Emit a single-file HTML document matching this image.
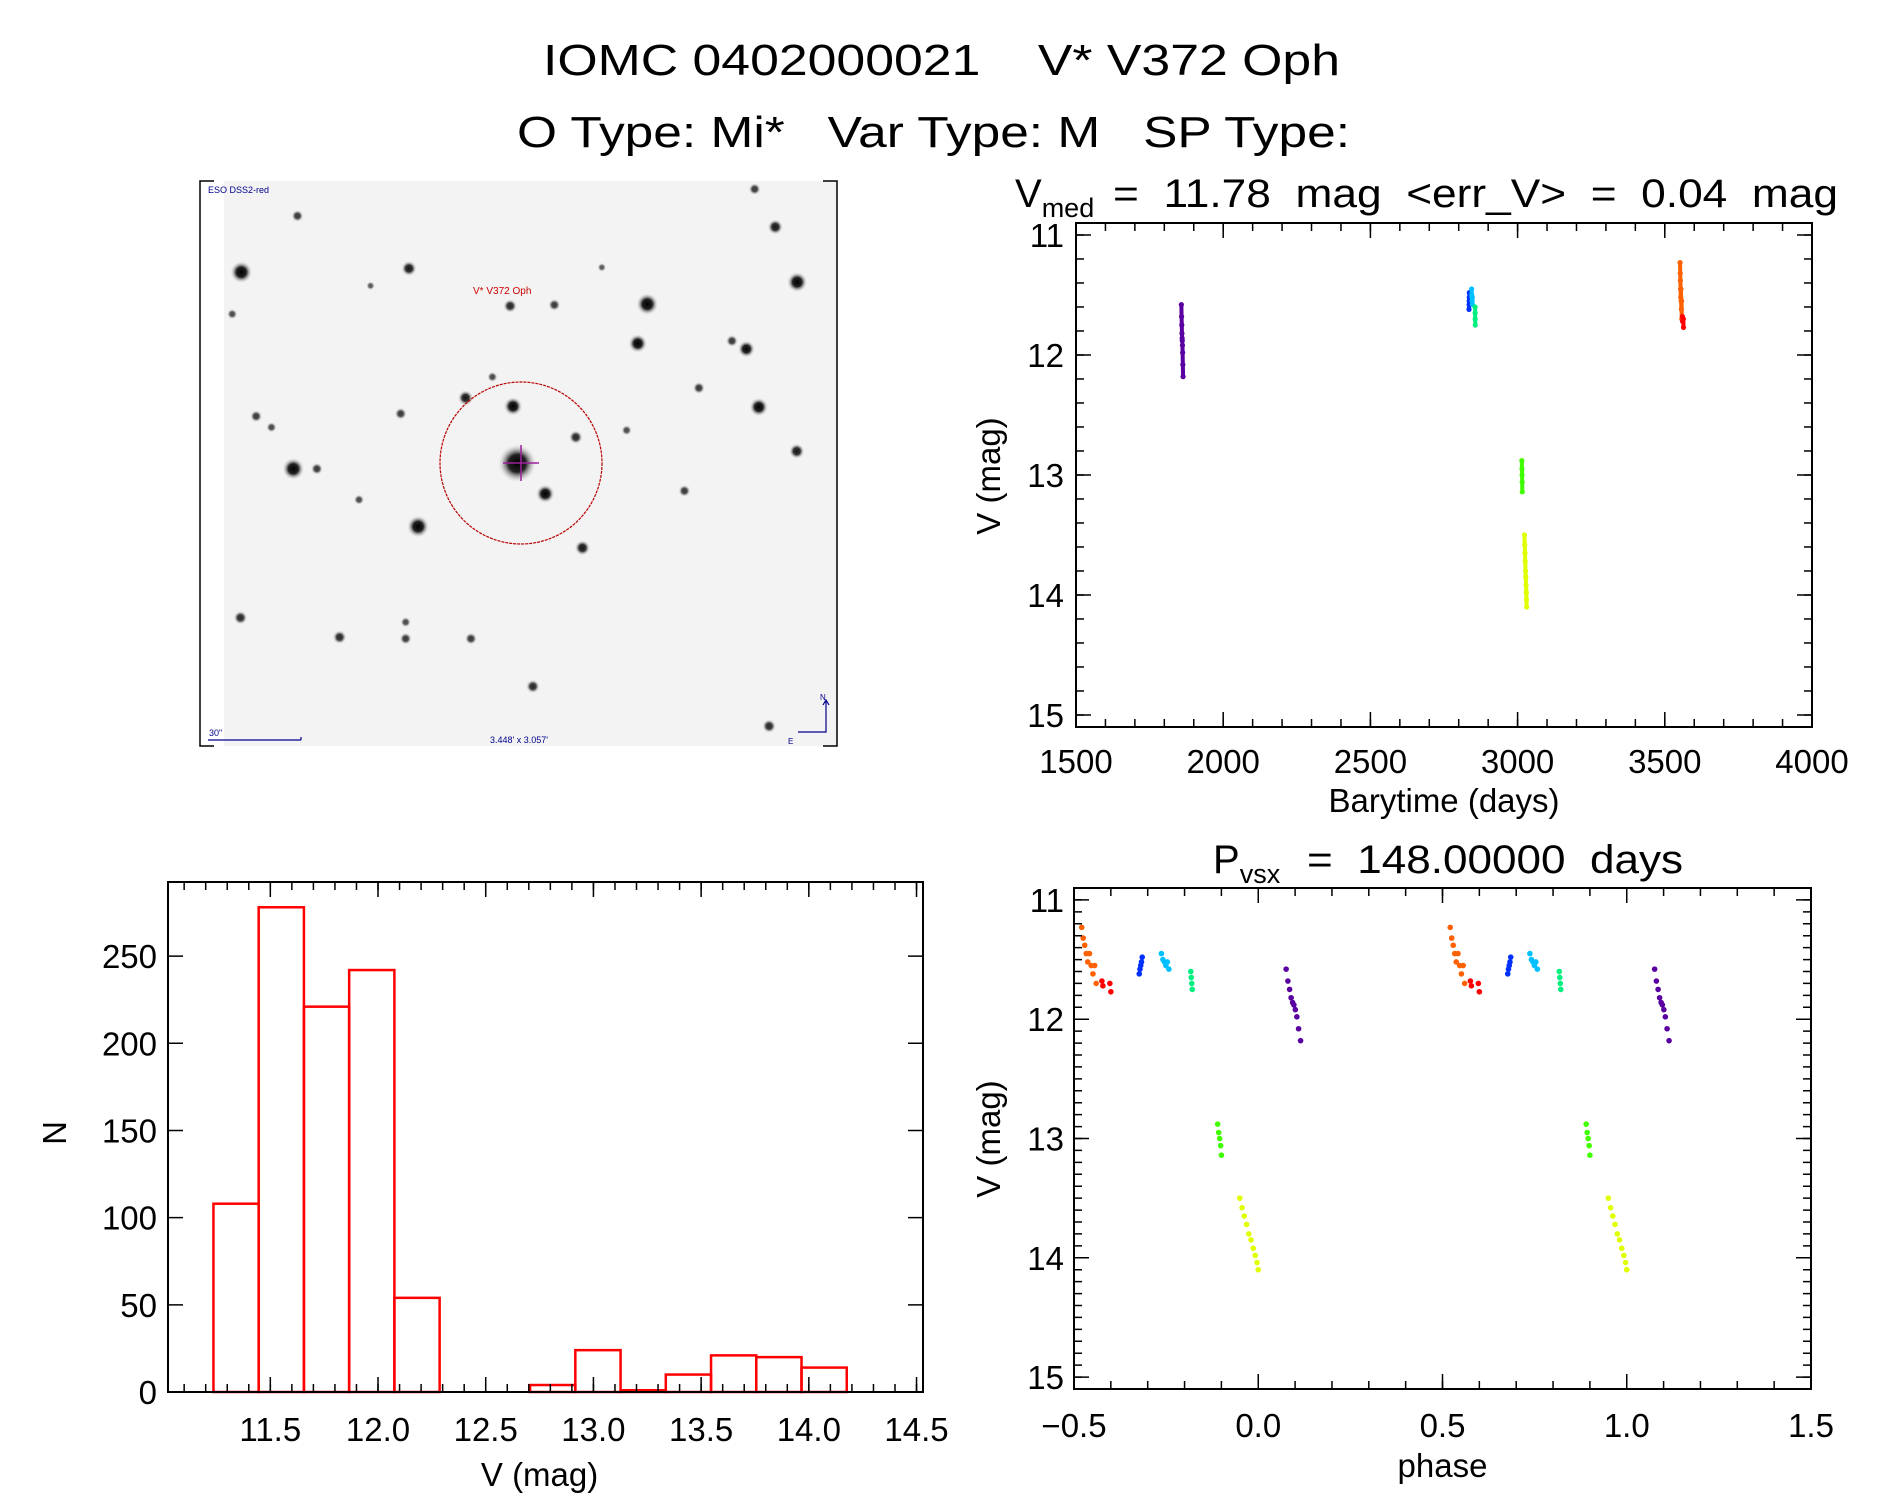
<!DOCTYPE html>
<html><head><meta charset="utf-8"><style>
html,body{margin:0;padding:0;background:#fff}
svg{display:block;font-family:"Liberation Sans",sans-serif}
text{white-space:pre}
</style></head><body>
<svg id="fig" xmlns="http://www.w3.org/2000/svg" width="1889" height="1494" viewBox="0 0 1889 1494">
<rect width="1889" height="1494" fill="#fff"/>
<text x="543" y="75" font-size="44" textLength="797" lengthAdjust="spacingAndGlyphs">IOMC 0402000021    V* V372 Oph</text>
<text x="517" y="147" font-size="44" textLength="833" lengthAdjust="spacingAndGlyphs">O Type: Mi*   Var Type: M   SP Type:</text>

<g id="img">
  <defs><radialGradient id="star"><stop offset="0" stop-color="#000"/><stop offset="0.45" stop-color="#222"/><stop offset="1" stop-color="#f4f4f4" stop-opacity="0"/></radialGradient></defs>
  <rect x="224" y="181" width="613" height="565" fill="#f3f3f3"/>
  <g id="stars"></g>
  <path d="M214 181H200V746H214M823 181H837V746H823" fill="none" stroke="#000" stroke-width="1.5"/>
  <circle cx="521" cy="463" r="81" fill="none" stroke="#b00" stroke-width="1.2" stroke-dasharray="3 1"/>
  <path d="M503 463H539M521 445V481" stroke="#a020a0" stroke-width="1.5"/>
  <text x="208" y="193" font-size="9" fill="#00008b">ESO DSS2-red</text>
  <text x="473" y="294" font-size="10" fill="#c00">V* V372 Oph</text>
  <text x="209" y="736" font-size="9" fill="#00008b">30"</text>
  <path d="M208 740H301M301 737V740" stroke="#00008b" stroke-width="1.2" fill="none"/>
  <text x="490" y="743" font-size="9" fill="#00008b">3.448' x 3.057'</text>
  <path d="M826 700V732H798M823 705L826 700L829 705" stroke="#00008b" stroke-width="1.2" fill="none"/>
  <text x="820" y="700" font-size="8" fill="#00008b">N</text>
  <text x="788" y="744" font-size="8" fill="#00008b">E</text>
</g>

<g id="hist"></g>
<g id="lc"></g>
<g id="ph"></g>

<text x="1015" y="207" font-size="40">V<tspan dy="10" font-size="27">med</tspan><tspan x="1113" dy="-10" textLength="725" lengthAdjust="spacingAndGlyphs">=  11.78  mag  &lt;err_V&gt;  =  0.04  mag</tspan></text>
<text x="1213" y="873" font-size="40">P<tspan dy="10" font-size="27">vsx</tspan><tspan x="1307" dy="-10" textLength="376" lengthAdjust="spacingAndGlyphs">=  148.00000  days</tspan></text>
</svg>
<script>
// histogram data
const histBinStart = 11.236;
const histBinWidth = 0.21;
const histCounts = [108, 278, 221, 242, 54, 0, 0, 4, 24, 1, 10, 21, 20, 14];
const histXTicks = [11.5, 12.0, 12.5, 13.0, 13.5, 14.0, 14.5];
const histYTicks = [0, 50, 100, 150, 200, 250];

// light curve data (time in days, V mag), grouped by season colour
const groupColors = ["#5a00a0", "#0030ff", "#00c0ff", "#00f080", "#40ff00", "#e0ff00", "#ff6000", "#ff0000"];
const groupTimes = [
  [1857.9, 1858.6, 1859.3, 1859.9, 1860.5, 1861.0, 1861.6, 1862.2, 1862.9, 1863.7],
  [2834.9, 2835.2, 2835.5, 2835.8, 2836.1],
  [2843.8, 2844.4, 2845.0, 2845.6, 2846.2, 2846.8],
  [2855.6, 2855.8, 2856.0, 2856.2],
  [3014.4, 3014.8, 3015.2, 3015.6, 3015.9],
  [3023.3, 3024.2, 3025.1, 3026.0, 3026.9, 3027.8, 3028.7, 3029.5, 3030.2, 3030.7],
  [3551.8, 3552.4, 3553.0, 3553.6, 3554.2, 3554.9, 3555.6, 3556.3, 3557.0, 3557.6],
  [3559.9, 3560.3, 3563.1, 3563.5]
];
const groupMags = [
  [11.58, 11.68, 11.75, 11.82, 11.86, 11.88, 11.92, 11.98, 12.08, 12.18],
  [11.62, 11.58, 11.55, 11.52, 11.48],
  [11.45, 11.50, 11.52, 11.55, 11.52, 11.58],
  [11.60, 11.65, 11.70, 11.75],
  [12.88, 12.95, 13.00, 13.06, 13.14],
  [13.50, 13.58, 13.65, 13.72, 13.80, 13.85, 13.92, 13.98, 14.04, 14.10],
  [11.23, 11.32, 11.38, 11.45, 11.52, 11.45, 11.55, 11.62, 11.55, 11.70],
  [11.68, 11.72, 11.70, 11.77]
];
const period = 148.0;
const epoch = 1846.7;
const lcXTicks = [1500, 2000, 2500, 3000, 3500, 4000];
const magTicks = [11, 12, 13, 14, 15];
const phaseTicks = [-0.5, 0.0, 0.5, 1.0, 1.5];

const NS = "http://www.w3.org/2000/svg";
function mk(parent, tag, attrs, text) {
  const e = document.createElementNS(NS, tag);
  for (const k in attrs) e.setAttribute(k, attrs[k]);
  if (text !== undefined) e.textContent = text;
  parent.appendChild(e);
  return e;
}
function scale(d0, d1, r0, r1) { return v => r0 + (v - d0) / (d1 - d0) * (r1 - r0); }

function frame(g, L, T, R, B) {
  const r = mk(g, "rect", {x: L, y: T, width: R - L, height: B - T, fill: "none", stroke: "#000", "stroke-width": 2});
  
  
}
function xTicks(g, sx, T, B, from, to, step, len) {
  for (let v = from; v <= to + 1e-9; v += step) {
    const x = sx(v);
    const t = mk(g, "path", {d: `M${x} ${B}V${B - len}M${x} ${T}V${T + len}`, stroke: "#000", "stroke-width": 1.5});
    
    
  }
}
function yTicks(g, sy, L, R, from, to, step, len) {
  for (let v = from; v <= to + 1e-9; v += step) {
    const y = sy(v);
    const t = mk(g, "path", {d: `M${L} ${y}H${L + len}M${R} ${y}H${R - len}`, stroke: "#000", "stroke-width": 1.5});
    
    
  }
}
function xLabels(g, sx, vals, y, fmt) {
  vals.forEach(v => {
    const t = mk(g, "text", {x: sx(v), y: y, "font-size": 33, "text-anchor": "middle"}, fmt(v));
    
    
  });
}
function yLabels(g, sy, vals, x, fmt) {
  vals.forEach(v => {
    const t = mk(g, "text", {x: x, y: sy(v) + 12, "font-size": 33, "text-anchor": "end"}, fmt(v));
    
    
  });
}
function title(g, txt, x, y, rot, name) {
  const t = mk(g, "text", {x: x, y: y, "font-size": 33, "text-anchor": "middle", transform: rot ? `rotate(-90 ${x} ${y})` : ""}, txt);
  
  
}

// ---------- histogram ----------
(function () {
  const g = document.getElementById("hist");
  const L = 168, R = 923, T = 882, B = 1392;
  const sx = scale(11.025, 14.53, L, R);
  const sy = scale(0, 292.5, B, T);
  histCounts.forEach((c, i) => {
    const x0 = sx(histBinStart + i * histBinWidth), x1 = sx(histBinStart + (i + 1) * histBinWidth);
    const bar = mk(g, "rect", {x: x0, y: sy(c), width: x1 - x0, height: B - sy(c), fill: "none", stroke: "#ff0000", "stroke-width": 2.5});
    
    
  });
  frame(g, L, T, R, B);
  xTicks(g, sx, T, B, 11.1, 14.5, 0.1, 8);
  xTicks(g, sx, T, B, 11.5, 14.5, 0.5, 15);
  yTicks(g, sy, L, R, 0, 250, 50, 15);
  xLabels(g, sx, histXTicks, 1441, v => v.toFixed(1));
  yLabels(g, sy, histYTicks, 157, v => String(v));
  title(g, "V (mag)", sx(12.75), 1486, false, "x-axis-title");
  title(g, "N", 66, 1133, true, "y-axis-title");
})();

// ---------- light curve ----------
(function () {
  const g = document.getElementById("lc");
  const L = 1076, R = 1812, T = 223, B = 727;
  const sx = scale(1500, 4000, L, R);
  const sy = scale(10.9, 15.1, T, B);
  groupTimes.forEach((ts, gi) => {
    ts.forEach((t, i) => {
      const c = mk(g, "circle", {cx: sx(t), cy: sy(groupMags[gi][i]), r: 2.6, fill: groupColors[gi]});
      
      
    });
    for (let i = 1; i < ts.length; i++) {
      const l = mk(g, "line", {x1: sx(ts[i - 1]), y1: sy(groupMags[gi][i - 1]), x2: sx(ts[i]), y2: sy(groupMags[gi][i]), stroke: groupColors[gi], "stroke-width": 4});
      
      
    }
  });
  frame(g, L, T, R, B);
  xTicks(g, sx, T, B, 1500, 4000, 100, 8);
  xTicks(g, sx, T, B, 1500, 4000, 500, 15);
  yTicks(g, sy, L, R, 11, 15, 0.2, 8);
  yTicks(g, sy, L, R, 11, 15, 1, 15);
  xLabels(g, sx, lcXTicks, 773, v => String(v));
  yLabels(g, sy, magTicks, 1064, v => String(v));
  title(g, "Barytime (days)", sx(2750), 812, false, "x-axis-title");
  title(g, "V (mag)", 1000, 476, true, "y-axis-title");
})();

// ---------- phase plot ----------
(function () {
  const g = document.getElementById("ph");
  const L = 1074, R = 1811, T = 888, B = 1389;
  const sx = scale(-0.5, 1.5, L, R);
  const sy = scale(10.9, 15.1, T, B);
  groupTimes.forEach((ts, gi) => {
    ts.forEach((t, i) => {
      let p = ((t - epoch) / period) % 1;
      if (p > 0.5) p -= 1;
      [p, p + 1].forEach(pp => {
        const c = mk(g, "circle", {cx: sx(pp), cy: sy(groupMags[gi][i]), r: 2.8, fill: groupColors[gi]});
        
        
      });
    });
  });
  frame(g, L, T, R, B);
  xTicks(g, sx, T, B, -0.5, 1.5, 0.1, 8);
  xTicks(g, sx, T, B, -0.5, 1.5, 0.5, 15);
  yTicks(g, sy, L, R, 11, 15, 0.1, 8);
  yTicks(g, sy, L, R, 11, 15, 1, 15);
  xLabels(g, sx, phaseTicks, 1437, v => (v < 0 ? "\u2212" : "") + Math.abs(v).toFixed(1));
  yLabels(g, sy, magTicks, 1064, v => String(v));
  title(g, "phase", sx(0.5), 1477, false, "x-axis-title");
  title(g, "V (mag)", 1000, 1139, true, "y-axis-title");
})();

// ---------- sky image stars ----------
(function () {
  const g = document.getElementById("stars");
  const stars = [[112,263,22],[518,253,14],[248,110,10],[1095,350,22],[1458,290,20],[1405,140,14],[1355,37,10],[1072,457,18],[1335,472,16],[1300,450,10],[763,355,12],[870,352,10],[655,605,14],[770,628,18],[1365,630,18],[922,712,12],[780,783,42],[848,866,18],[238,798,22],[295,798,10],[148,655,10],[185,685,8],[498,648,10],[540,955,22],[938,1013,14],[1457,750,14],[1185,858,10],[1220,578,10],[397,882,8],[110,1203,12],[350,1256,12],[510,1260,10],[510,1215,8],[668,1260,10],[818,1390,12],[1390,1498,12],[90,377,8],[1045,693,8],[720,548,8],[985,250,6],[425,300,6]];
  stars.forEach(s => {
    const c = mk(g, "circle", {cx: 200 + (s[0] - 12) * 0.413, cy: 181 + (s[1] - 15) * 0.3676, r: s[2] * 0.42 + 2, fill: "url(#star)", opacity: Math.min(1, 0.45 + s[2] / 30)});
    
    
  });
})();
</script>
</body></html>
